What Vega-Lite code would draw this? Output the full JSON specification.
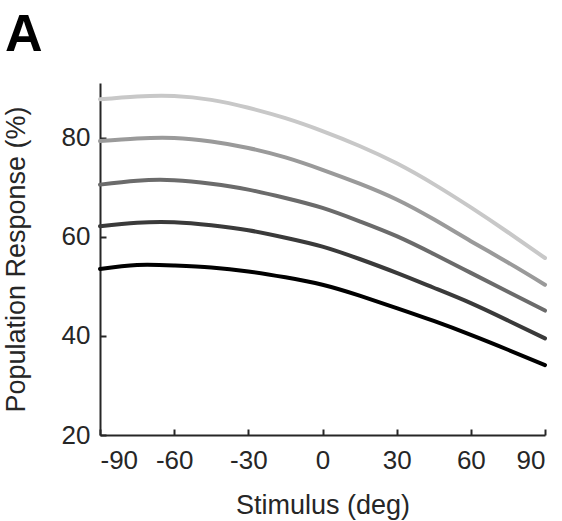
{
  "$schema": "https://vega.github.io/schema/vega-lite/v6.json",
  "width": 445,
  "height": 352,
  "autosize": "none",
  "padding": {"left": 100, "top": 83, "right": 17, "bottom": 86},
  "background": "white",
  "title": {"text": "A", "anchor": "start", "frame": "group", "dx": -95, "offset": 21, "fontSize": 52, "fontWeight": "bold", "font": "Liberation Sans", "color": "#000000"},
  "config": {
    "view": {"stroke": null},
    "font": "Liberation Sans",
    "axis": {
      "grid": false,
      "domainColor": "#262626",
      "domainWidth": 2,
      "tickColor": "#262626",
      "tickWidth": 2,
      "tickSize": -6,
      "labelColor": "#262626",
      "titleColor": "#262626",
      "labelFontSize": 26,
      "titleFontSize": 27,
      "titleFontWeight": "normal",
      "labelFont": "Liberation Sans",
      "titleFont": "Liberation Sans",
      "labelExpr": "toString(datum.value)"
    }
  },
  "data": {"values": [
    {"x": -90, "y": 87.7, "g": "e"}, {"x": -75, "y": 88.3, "g": "e"}, {"x": -60, "y": 88.4, "g": "e"}, {"x": -45, "y": 87.6, "g": "e"}, {"x": -30, "y": 86.0, "g": "e"}, {"x": -15, "y": 83.9, "g": "e"}, {"x": 0, "y": 81.3, "g": "e"}, {"x": 15, "y": 78.3, "g": "e"}, {"x": 30, "y": 74.8, "g": "e"}, {"x": 45, "y": 70.6, "g": "e"}, {"x": 60, "y": 65.9, "g": "e"}, {"x": 75, "y": 60.9, "g": "e"}, {"x": 90, "y": 55.7, "g": "e"},
    {"x": -90, "y": 79.3, "g": "d"}, {"x": -75, "y": 79.8, "g": "d"}, {"x": -60, "y": 79.9, "g": "d"}, {"x": -45, "y": 79.2, "g": "d"}, {"x": -30, "y": 77.9, "g": "d"}, {"x": -15, "y": 76.0, "g": "d"}, {"x": 0, "y": 73.5, "g": "d"}, {"x": 15, "y": 70.7, "g": "d"}, {"x": 30, "y": 67.5, "g": "d"}, {"x": 45, "y": 63.5, "g": "d"}, {"x": 60, "y": 59.1, "g": "d"}, {"x": 75, "y": 54.8, "g": "d"}, {"x": 90, "y": 50.3, "g": "d"},
    {"x": -90, "y": 70.5, "g": "c"}, {"x": -75, "y": 71.3, "g": "c"}, {"x": -60, "y": 71.4, "g": "c"}, {"x": -45, "y": 70.7, "g": "c"}, {"x": -30, "y": 69.5, "g": "c"}, {"x": -15, "y": 67.8, "g": "c"}, {"x": 0, "y": 65.8, "g": "c"}, {"x": 15, "y": 63.1, "g": "c"}, {"x": 30, "y": 60.1, "g": "c"}, {"x": 45, "y": 56.5, "g": "c"}, {"x": 60, "y": 52.7, "g": "c"}, {"x": 75, "y": 48.9, "g": "c"}, {"x": 90, "y": 45.1, "g": "c"},
    {"x": -90, "y": 62.1, "g": "b"}, {"x": -75, "y": 62.8, "g": "b"}, {"x": -60, "y": 62.9, "g": "b"}, {"x": -45, "y": 62.3, "g": "b"}, {"x": -30, "y": 61.3, "g": "b"}, {"x": -15, "y": 59.8, "g": "b"}, {"x": 0, "y": 58.0, "g": "b"}, {"x": 15, "y": 55.5, "g": "b"}, {"x": 30, "y": 52.7, "g": "b"}, {"x": 45, "y": 49.7, "g": "b"}, {"x": 60, "y": 46.6, "g": "b"}, {"x": 75, "y": 43.1, "g": "b"}, {"x": 90, "y": 39.5, "g": "b"},
    {"x": -90, "y": 53.5, "g": "a"}, {"x": -75, "y": 54.3, "g": "a"}, {"x": -60, "y": 54.2, "g": "a"}, {"x": -45, "y": 53.8, "g": "a"}, {"x": -30, "y": 53.0, "g": "a"}, {"x": -15, "y": 51.8, "g": "a"}, {"x": 0, "y": 50.3, "g": "a"}, {"x": 15, "y": 48.1, "g": "a"}, {"x": 30, "y": 45.6, "g": "a"}, {"x": 45, "y": 43.0, "g": "a"}, {"x": 60, "y": 40.2, "g": "a"}, {"x": 75, "y": 37.2, "g": "a"}, {"x": 90, "y": 34.1, "g": "a"}
  ]},
  "mark": {"type": "line", "strokeWidth": 4, "interpolate": "natural", "strokeCap": "round"},
  "encoding": {
    "x": {"field": "x", "type": "quantitative", "scale": {"domain": [-90, 90], "nice": false}, "axis": {"values": [-90, -60, -30, 0, 30, 60, 90], "title": "Stimulus (deg)", "labelPadding": 18, "titlePadding": 19}},
    "y": {"field": "y", "type": "quantitative", "scale": {"domain": [20, 91], "nice": false, "zero": false}, "axis": {"values": [20, 40, 60, 80], "title": "Population Response (%)", "labelPadding": 16, "titlePadding": 31}},
    "color": {"field": "g", "type": "nominal", "scale": {"domain": ["a", "b", "c", "d", "e"], "range": ["#000000", "#3a3a3a", "#6b6b6b", "#9a9a9a", "#c8c8c8"]}, "legend": null},
    "order": {"field": "x", "type": "quantitative"}
  }
}
